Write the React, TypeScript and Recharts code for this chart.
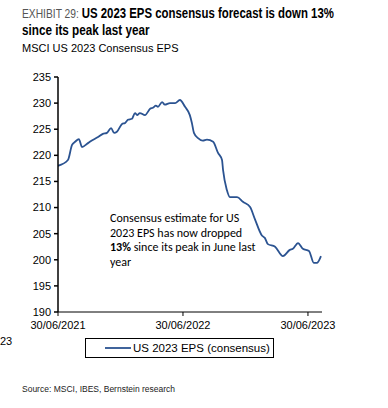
import { LineChart, Line, XAxis, YAxis } from 'recharts';

// MSCI US 2023 consensus EPS
const DATES = [
  '2021-06-30', '2021-07-29', '2021-08-10', '2021-08-19', '2021-08-30', '2021-09-08',
  '2021-09-23', '2021-10-01', '2021-10-25', '2021-11-08', '2021-11-20', '2021-12-02',
  '2021-12-11', '2021-12-19', '2022-01-03', '2022-01-12', '2022-01-20', '2022-02-01',
  '2022-02-10', '2022-02-16', '2022-02-24', '2022-03-11', '2022-03-26', '2022-04-03',
  '2022-04-12', '2022-04-18', '2022-04-30', '2022-05-08', '2022-05-23', '2022-06-07',
  '2022-06-21', '2022-07-06', '2022-07-20', '2022-07-26', '2022-08-01', '2022-08-13',
  '2022-08-27', '2022-09-08', '2022-09-26', '2022-10-10', '2022-10-22', '2022-10-25',
  '2022-11-05', '2022-11-14', '2022-12-05', '2022-12-22', '2023-01-12', '2023-01-26',
  '2023-02-16', '2023-02-24', '2023-03-05', '2023-03-26', '2023-04-18', '2023-05-08',
  '2023-05-17', '2023-06-01', '2023-06-15', '2023-07-03', '2023-07-17', '2023-07-26',
  '2023-08-07',
];
const EPS = [
  218.0, 219.1, 222.0, 222.6, 223.1, 221.6,
  222.2, 222.6, 223.5, 224.1, 224.3, 225.2,
  224.3, 224.5, 226.0, 226.2, 226.8, 227.0,
  228.1, 227.7, 228.1, 227.7, 228.9, 229.1,
  229.5, 229.3, 230.2, 229.7, 230.0, 230.0,
  230.6, 229.3, 227.7, 226.2, 224.3, 223.3,
  222.8, 223.0, 222.6, 220.5, 219.1, 217.2,
  213.4, 212.0, 212.0, 211.1, 210.1, 207.8,
  204.6, 204.2, 203.0, 202.5, 200.7, 201.9,
  202.1, 203.2, 202.1, 201.7, 199.4, 199.4,
  200.7,
];
const X_TICKS = ['2021-06-30', '2022-06-30', '2023-06-30'];
const X_END = '2023-08-10';
const Y_TICKS = [190, 195, 200, 205, 210, 215, 220, 225, 230, 235];
const SERIES_NAME = 'US 2023 EPS (consensus)';

const toTime = (d: string) => {
  const [y, m, day] = d.split('-').map(Number);
  return Date.UTC(y, m - 1, day);
};
const pad = (n: number) => String(n).padStart(2, '0');
const fmtDate = (t: number) => {
  const d = new Date(t);
  return `${pad(d.getUTCDate())}/${pad(d.getUTCMonth() + 1)}/${d.getUTCFullYear()}`;
};

const data = DATES.map((d, i) => ({ t: toTime(d), eps: EPS[i] }));

const LINE_COLOR = '#2b5391';
const ARIAL = 'Arial, "Liberation Sans", sans-serif';
const tickStyle = { fontSize: 11, fill: '#000', fontFamily: ARIAL };

// title font is a condensed face, squeeze a regular one
const titleLine = (sx: number) => ({
  whiteSpace: 'nowrap' as const,
  transform: `scaleX(${sx})`,
  transformOrigin: 'left center',
  height: 17,
});

export default function App() {
  return (
    <div style={{ position: 'relative', width: 388, height: 408, background: '#fff', fontFamily: ARIAL }}>
      <style>{'body{margin:0}'}</style>
      <div
        style={{
          position: 'absolute',
          left: 22,
          top: 4,
          fontFamily: ARIAL,
          fontSize: 15,
          lineHeight: '17px',
          color: '#000',
        }}
      >
        <div style={titleLine(0.76)}>
          <span style={{ color: '#555', fontWeight: 400, fontSize: 13.5 }}>EXHIBIT 29: </span>
          <span style={{ fontWeight: 700 }}>US 2023 EPS consensus forecast is down 13%</span>
        </div>
        <div style={{ ...titleLine(0.78), fontWeight: 700 }}>since its peak last year</div>
      </div>
      <div style={{ position: 'absolute', left: 22, top: 42, fontSize: 11, color: '#000', whiteSpace: 'nowrap' }}>
        MSCI US 2023 Consensus EPS
      </div>

      <LineChart
        width={388}
        height={408}
        data={data}
        margin={{ top: 77, right: 66, bottom: 66, left: 0 }}
        style={{ position: 'absolute', left: 0, top: 0 }}
      >
        <XAxis
          dataKey="t"
          type="number"
          scale="time"
          domain={[toTime(X_TICKS[0]), toTime(X_END)]}
          ticks={X_TICKS.map(toTime)}
          tickFormatter={fmtDate}
          height={30}
          tickSize={4}
          tickMargin={5}
          tick={tickStyle}
          stroke="#000"
          allowDataOverflow
        />
        <YAxis
          domain={[190, 235]}
          ticks={Y_TICKS}
          width={58}
          tickSize={4}
          tickMargin={3}
          tick={tickStyle}
          stroke="#000"
          strokeWidth={1.5}
          interval={0}
        />
        <Line
          type="monotone"
          dataKey="eps"
          name={SERIES_NAME}
          stroke={LINE_COLOR}
          strokeWidth={1.8}
          dot={false}
          isAnimationActive={false}
        />
      </LineChart>

      <div
        style={{
          position: 'absolute',
          left: 110,
          top: 211,
          fontFamily: 'Carlito, Lato, "Open Sans", sans-serif',
          fontSize: 12,
          lineHeight: '14.7px',
          color: '#000',
          whiteSpace: 'nowrap',
        }}
      >
        Consensus estimate for US
        <br />
        2023 EPS has now dropped
        <br />
        <b>13%</b> since its peak in June last
        <br />
        year
      </div>

      <div style={{ position: 'absolute', left: 0, top: 335, fontSize: 11, color: '#000' }}>23</div>

      <div
        style={{
          position: 'absolute',
          left: 85,
          top: 338,
          width: 187,
          height: 18,
          border: '1px solid #000',
          display: 'flex',
          alignItems: 'center',
          fontSize: 11.5,
          color: '#000',
          whiteSpace: 'nowrap',
        }}
      >
        <svg width={26} height={4} style={{ marginLeft: 19, marginRight: 2 }}>
          <line x1={0} y1={2} x2={26} y2={2} stroke={LINE_COLOR} strokeWidth={1.8} />
        </svg>
        {SERIES_NAME}
      </div>

      <div style={{ position: 'absolute', left: 22, top: 384, fontSize: 8.5, color: '#222', whiteSpace: 'nowrap' }}>
        Source: MSCI, IBES, Bernstein research
      </div>
    </div>
  );
}
